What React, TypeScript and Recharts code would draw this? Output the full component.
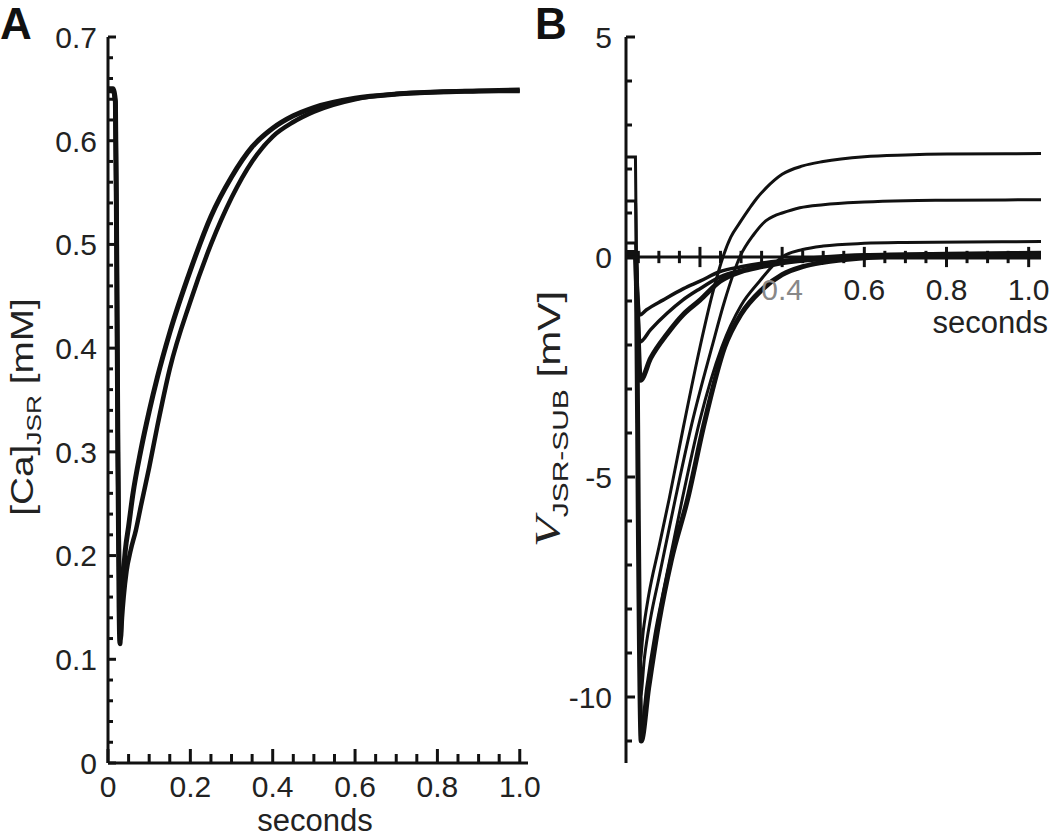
import { LineChart, Line, XAxis, YAxis, ReferenceLine } from "recharts";

const FONT = '"Liberation Sans", Arial, sans-serif';
const INK = "#111";
const TEXT = "#222";

// ---- Panel A: [Ca]JSR (mM) vs seconds ----
const tA1 = [0, 0.012, 0.018, 0.021, 0.024, 0.027, 0.029, 0.032, 0.036, 0.042, 0.05, 0.06, 0.08, 0.1, 0.12, 0.15, 0.2, 0.25, 0.3, 0.35, 0.4, 0.45, 0.5, 0.6, 0.7, 0.8, 0.9, 1.0];
const caA1 = [0.65, 0.65, 0.638, 0.5, 0.3, 0.15, 0.115, 0.145, 0.175, 0.205, 0.228, 0.258, 0.302, 0.339, 0.372, 0.415, 0.475, 0.527, 0.565, 0.594, 0.612, 0.624, 0.632, 0.641, 0.645, 0.647, 0.648, 0.649];
const tA2 = [0, 0.012, 0.018, 0.021, 0.024, 0.028, 0.031, 0.034, 0.038, 0.045, 0.055, 0.068, 0.08, 0.1, 0.12, 0.15, 0.2, 0.25, 0.3, 0.35, 0.4, 0.45, 0.5, 0.6, 0.7, 0.8, 0.9, 1.0];
const caA2 = [0.648, 0.648, 0.636, 0.5, 0.3, 0.15, 0.12, 0.14, 0.16, 0.185, 0.205, 0.225, 0.248, 0.285, 0.325, 0.38, 0.445, 0.5, 0.545, 0.58, 0.604, 0.618, 0.628, 0.64, 0.645, 0.647, 0.648, 0.648];

const xLabelsA = [0, 0.2, 0.4, 0.6, 0.8, 1.0];
const xMinorA = [0.05, 0.1, 0.15, 0.25, 0.3, 0.35, 0.45, 0.5, 0.55, 0.65, 0.7, 0.75, 0.85, 0.9, 0.95];
const yLabelsA = [0, 0.1, 0.2, 0.3, 0.4, 0.5, 0.6, 0.7];
const yMinorA = [0.02, 0.04, 0.06, 0.08, 0.12, 0.14, 0.16, 0.18, 0.22, 0.24, 0.26, 0.28, 0.32, 0.34, 0.36, 0.38, 0.42, 0.44, 0.46, 0.48, 0.52, 0.54, 0.56, 0.58, 0.62, 0.64, 0.66, 0.68];

// ---- Panel B: V JSR-SUB (mV) vs seconds ----
const tD1 = [0.02, 0.043, 0.046, 0.05, 0.054, 0.062, 0.075, 0.1, 0.125, 0.16, 0.2, 0.23, 0.256, 0.275, 0.297, 0.32, 0.338, 0.36, 0.4, 0.45, 0.5, 0.6, 0.7, 0.8, 1.03];
const vD1 = [2.27, 2.27, -1, -6, -9.2, -8.5, -7.7, -6.6, -5.5, -3.85, -2.05, -0.85, 0, 0.45, 0.78, 1.1, 1.33, 1.56, 1.88, 2.07, 2.17, 2.28, 2.32, 2.34, 2.35];
const tD2 = [0.02, 0.043, 0.046, 0.05, 0.055, 0.065, 0.08, 0.1, 0.14, 0.18, 0.229, 0.26, 0.297, 0.33, 0.36, 0.38, 0.4, 0.443, 0.5, 0.6, 0.7, 0.8, 1.03];
const vD2 = [1.27, 1.27, -1, -6, -10.0, -9.1, -8.2, -7.3, -5.5, -3.8, -2.05, -1.0, 0, 0.5, 0.82, 0.93, 1.0, 1.12, 1.19, 1.25, 1.28, 1.29, 1.3];
const tD3 = [0.02, 0.043, 0.046, 0.05, 0.056, 0.07, 0.09, 0.111, 0.135, 0.157, 0.2, 0.253, 0.3, 0.345, 0.4, 0.45, 0.5, 0.6, 0.7, 0.85, 1.03];
const vD3 = [0.32, 0.32, -1, -6, -10.8, -9.8, -8.6, -7.6, -6.5, -5.5, -3.7, -2.05, -1.1, -0.55, 0, 0.17, 0.25, 0.31, 0.33, 0.34, 0.35];
const tD4 = [0.02, 0.043, 0.046, 0.05, 0.057, 0.075, 0.1, 0.13, 0.17, 0.21, 0.26, 0.3, 0.35, 0.4, 0.45, 0.5, 0.6, 0.7, 0.85, 1.03];
const vD4 = [0.1, 0.1, -1, -6, -11.0, -9.8, -8.3, -6.9, -5.5, -3.8, -2.05, -1.3, -0.75, -0.4, -0.22, -0.12, -0.02, 0.03, 0.05, 0.05];
const tS1 = [0.02, 0.043, 0.047, 0.053, 0.07, 0.11, 0.16, 0.2, 0.249, 0.3, 0.35, 0.4, 0.5, 0.6, 0.8, 1.03];
const vS1 = [0.05, 0.05, -0.6, -1.32, -1.2, -0.98, -0.72, -0.55, -0.33, -0.22, -0.14, -0.08, 0, 0.05, 0.08, 0.1];
const tS2 = [0.02, 0.043, 0.047, 0.054, 0.08, 0.12, 0.158, 0.2, 0.249, 0.3, 0.35, 0.4, 0.5, 0.6, 0.8, 1.03];
const vS2 = [0.05, 0.05, -0.8, -1.93, -1.65, -1.28, -0.98, -0.72, -0.45, -0.3, -0.2, -0.12, -0.03, 0.02, 0.04, 0.05];
const tS3 = [0.02, 0.043, 0.047, 0.055, 0.08, 0.12, 0.16, 0.2, 0.249, 0.3, 0.35, 0.4, 0.5, 0.6, 0.8, 1.03];
const vS3 = [0.0, 0.0, -1.0, -2.8, -2.3, -1.75, -1.3, -0.98, -0.55, -0.33, -0.22, -0.13, -0.04, 0.0, 0.0, 0.0];

const xMajorB = [0.2, 0.4, 0.6, 0.8, 1.0];
const xMajorLabelB = ["", "0.4", "0.6", "0.8", "1.0"];
const xMinorB = [0.05, 0.1, 0.15, 0.25, 0.3, 0.35, 0.45, 0.5, 0.55, 0.65, 0.7, 0.75, 0.85, 0.9, 0.95];
const yLabelsB = [-10, -5, 0, 5];
const yMinorB = [-11, -9, -8, -7, -6, -4, -3, -2, -1, 1, 2, 3, 4];

// ---- layout (page pixels) ----
const PLOT_TOP = 37;
const PLOT_BOTTOM = 763;
const A_W = 560;
const A_LEFT = 108;
const A_RIGHT = 528;
const A_XDOM: [number, number] = [0, 1.02];
const A_YDOM: [number, number] = [0, 0.7];
const B_OFF = 520;
const B_W = 530;
const B_LEFT = 626;
const B_RIGHT = 1041;
const B_XDOM: [number, number] = [0.02, 1.03];
const B_YDOM: [number, number] = [-11.5, 5];
const YAXIS_W = 60;
const XAXIS_H = 30;

const zip = (t: number[], v: number[]) => t.map((x, i) => ({ t: x, v: v[i] }));

const seriesA = [
  { key: "a1", data: zip(tA1, caA1), w: 5 },
  { key: "a2", data: zip(tA2, caA2), w: 4.5 },
];
const seriesB = [
  { key: "s1", data: zip(tS1, vS1), w: 3.5 },
  { key: "s2", data: zip(tS2, vS2), w: 3.5 },
  { key: "s3", data: zip(tS3, vS3), w: 5 },
  { key: "d1", data: zip(tD1, vD1), w: 3 },
  { key: "d2", data: zip(tD2, vD2), w: 3 },
  { key: "d3", data: zip(tD3, vD3), w: 3 },
  { key: "d4", data: zip(tD4, vD4), w: 5 },
];

const fmt = (v: number) => (v === 0 ? "0" : v.toFixed(1));

// linear maps matching the chart axes, used only for the inward tick marks
const lin = (d: [number, number], r: [number, number]) => (v: number) =>
  r[0] + ((v - d[0]) / (d[1] - d[0])) * (r[1] - r[0]);
const axA = lin(A_XDOM, [A_LEFT, A_RIGHT]);
const ayA = lin(A_YDOM, [PLOT_BOTTOM, PLOT_TOP]);
const ayB = lin(B_YDOM, [PLOT_BOTTOM, PLOT_TOP]);

function XLabelA(props: any) {
  const { x, y, payload } = props;
  return (
    <text x={x} y={y + 34} textAnchor="middle" fontSize={30} fill={TEXT} fontFamily={FONT}>
      {fmt(payload.value)}
    </text>
  );
}

function YLabelA(props: any) {
  const { x, y, payload } = props;
  return (
    <text x={x - 11} y={y} dy="0.36em" textAnchor="end" fontSize={30} fill={TEXT} fontFamily={FONT}>
      {fmt(payload.value)}
    </text>
  );
}

function YLabelB(props: any) {
  const { x, y, payload } = props;
  return (
    <text x={x - 14} y={y} dy="0.36em" textAnchor="end" fontSize={30} fill={TEXT} fontFamily={FONT}>
      {String(payload.value)}
    </text>
  );
}

export default function App() {
  return (
    <div style={{ position: "fixed", left: 0, top: 0, width: 1050, height: 837, background: "#fff" }}>
      <div style={{ position: "absolute", left: 0, top: 0 }}>
        <LineChart
          width={A_W}
          height={837}
          margin={{ top: PLOT_TOP, right: A_W - A_RIGHT, bottom: 837 - PLOT_BOTTOM - XAXIS_H, left: A_LEFT - YAXIS_W }}
        >
          <XAxis
            dataKey="t"
            type="number"
            domain={A_XDOM}
            ticks={xLabelsA}
            interval={0}
            tick={XLabelA}
            tickSize={0}
            tickMargin={0}
            tickLine={false}
            height={XAXIS_H}
            axisLine={{ stroke: INK, strokeWidth: 3 }}
          />
          <YAxis
            type="number"
            domain={A_YDOM}
            ticks={yLabelsA}
            interval={0}
            tick={YLabelA}
            tickSize={0}
            tickMargin={0}
            tickLine={false}
            width={YAXIS_W}
            axisLine={{ stroke: INK, strokeWidth: 3 }}
          />
          {seriesA.map((s) => (
            <Line
              key={s.key}
              data={s.data}
              dataKey="v"
              type="monotone"
              stroke={INK}
              strokeWidth={s.w}
              dot={false}
              activeDot={false}
              isAnimationActive={false}
            />
          ))}
        </LineChart>
      </div>

      <div style={{ position: "absolute", left: B_OFF, top: 0 }}>
        <LineChart
          width={B_W}
          height={837}
          margin={{ top: PLOT_TOP, right: B_OFF + B_W - B_RIGHT, bottom: 837 - PLOT_BOTTOM, left: B_LEFT - B_OFF - YAXIS_W }}
        >
          <XAxis dataKey="t" type="number" domain={B_XDOM} hide />
          <YAxis
            type="number"
            domain={B_YDOM}
            ticks={yLabelsB}
            interval={0}
            tick={YLabelB}
            tickSize={0}
            tickMargin={0}
            tickLine={false}
            width={YAXIS_W}
            axisLine={{ stroke: INK, strokeWidth: 3 }}
          />
          <ReferenceLine
            segment={[{ x: B_XDOM[0], y: 0 }, { x: 1.005, y: 0 }]}
            stroke={INK}
            strokeWidth={3}
          />
          {xMinorB.map((t) => (
            <ReferenceLine
              key={`bxm-${t}`}
              segment={[{ x: t, y: -0.14 }, { x: t, y: 0.14 }]}
              stroke={INK}
              strokeWidth={3}
            />
          ))}
          {xMajorB.map((t, i) => (
            <ReferenceLine
              key={`bxM-${t}`}
              segment={[{ x: t, y: -0.23 }, { x: t, y: 0.23 }]}
              stroke={INK}
              strokeWidth={3}
              label={
                xMajorLabelB[i]
                  ? {
                      value: xMajorLabelB[i],
                      position: "bottom",
                      offset: 12,
                      fill: i === 1 ? "#888" : TEXT,
                      fontSize: 30,
                      fontFamily: FONT,
                    }
                  : undefined
              }
            />
          ))}
          {seriesB.map((s) => (
            <Line
              key={s.key}
              data={s.data}
              dataKey="v"
              type="monotone"
              stroke={INK}
              strokeWidth={s.w}
              dot={false}
              activeDot={false}
              isAnimationActive={false}
            />
          ))}
        </LineChart>
      </div>

      <svg
        width={1050}
        height={837}
        style={{ position: "absolute", left: 0, top: 0, pointerEvents: "none" }}
        fontFamily={FONT}
      >
        {/* inward axis tick marks */}
        <g stroke={INK} strokeWidth={3}>
          {xLabelsA.map((t) => (
            <line key={`axM-${t}`} x1={axA(t)} x2={axA(t)} y1={PLOT_BOTTOM} y2={PLOT_BOTTOM - 14} />
          ))}
          {xMinorA.map((t) => (
            <line key={`axm-${t}`} x1={axA(t)} x2={axA(t)} y1={PLOT_BOTTOM} y2={PLOT_BOTTOM - 9} />
          ))}
          {yLabelsA.map((v) => (
            <line key={`ayM-${v}`} x1={A_LEFT} x2={A_LEFT + 8} y1={ayA(v)} y2={ayA(v)} />
          ))}
          {yMinorA.map((v) => (
            <line key={`aym-${v}`} x1={A_LEFT} x2={A_LEFT + 5} y1={ayA(v)} y2={ayA(v)} />
          ))}
          {yLabelsB.map((v) => (
            <line key={`byM-${v}`} x1={B_LEFT} x2={B_LEFT + 9} y1={ayB(v)} y2={ayB(v)} />
          ))}
          {yMinorB.map((v) => (
            <line key={`bym-${v}`} x1={B_LEFT} x2={B_LEFT + 6} y1={ayB(v)} y2={ayB(v)} />
          ))}
        </g>

        <text x={0} y={39} fontSize={44} fontWeight="bold" fill={INK}>A</text>
        <text x={535} y={39} fontSize={44} fontWeight="bold" fill={INK}>B</text>

        <text x={315} y={831} textAnchor="middle" fontSize={31} fill={TEXT}>seconds</text>
        <text x={1048} y={333} textAnchor="end" fontSize={31} fill={TEXT}>seconds</text>

        <g transform="translate(33, 407) rotate(-90) scale(1.25, 1)">
          <text x={0} y={0} textAnchor="middle" fontSize={31} fill={TEXT}>
            <tspan>[Ca]</tspan>
            <tspan dy={8} fontSize={21}>JSR</tspan>
            <tspan dy={-8}> [mM]</tspan>
          </text>
        </g>
        <g transform="translate(560, 419) rotate(-90) scale(1.36, 1)">
          <text x={0} y={0} textAnchor="middle" fontSize={31} fill={TEXT}>
            <tspan fontFamily='"Liberation Serif", serif' fontStyle="italic" fontSize={36}>V</tspan>
            <tspan dy={8} fontSize={22}>JSR-SUB</tspan>
            <tspan dy={-8}> [mV]</tspan>
          </text>
        </g>
      </svg>
    </div>
  );
}
